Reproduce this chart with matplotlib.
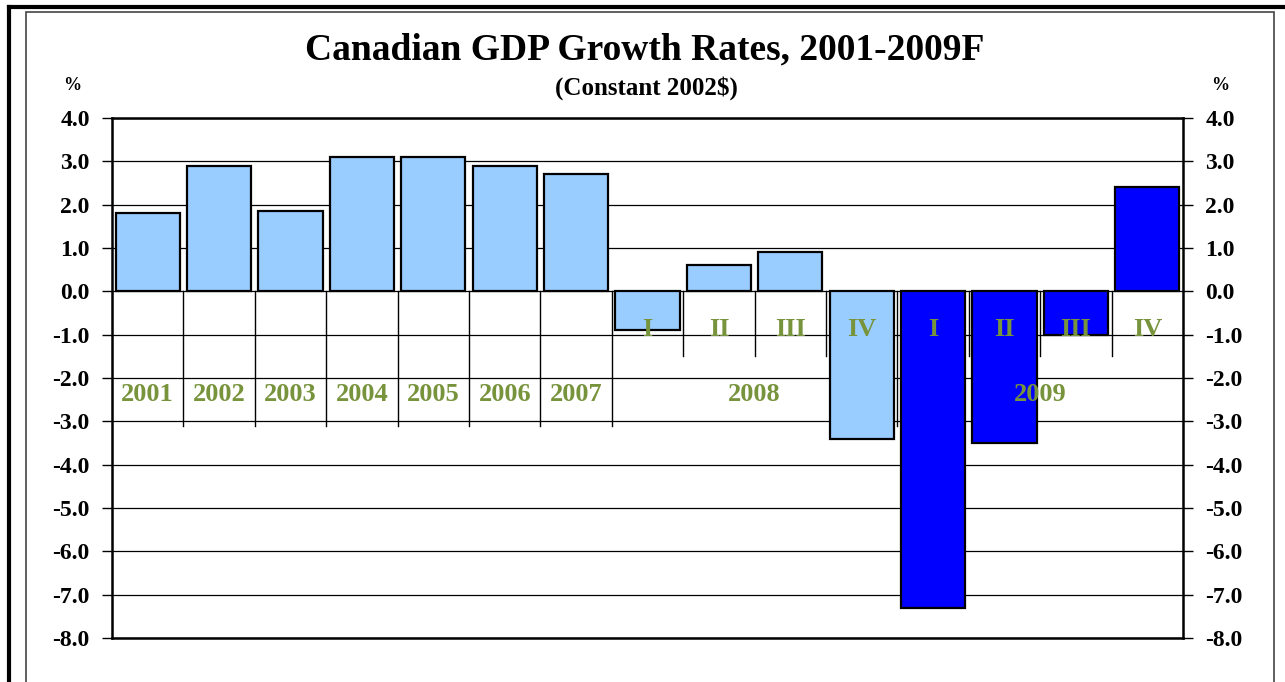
import numpy as np
import matplotlib.pyplot as plt
from matplotlib.patches import Rectangle
from matplotlib.lines import Line2D

plt.rcParams['font.family'] = ['Liberation Serif', 'DejaVu Serif']
plt.rcParams['font.weight'] = 'bold'

# growth rates, % (annual 2001-2007, then quarterly 2008-2009)
years = ['2001', '2002', '2003', '2004', '2005', '2006', '2007']
year_vals = [1.8, 2.9, 1.85, 3.1, 3.1, 2.9, 2.7]
quarters = ['I', 'II', 'III', 'IV']
q2008 = [-0.9, 0.6, 0.9, -3.4]
q2009 = [-7.3, -3.5, -1.0, 2.4]

light = '#99CCFF'
dark = '#0000FF'
green = '#77933C'

values = year_vals + q2008 + q2009
colors = [light] * (len(year_vals) + len(q2008)) + [dark] * len(q2009)
x = np.arange(len(values))

W, H = 1285, 682
fig = plt.figure(figsize=(W / 100, H / 100), dpi=100)
ax = fig.add_axes([112 / W, 1 - 638 / H, (1183 - 112) / W, (638 - 118) / H])

ax.bar(x, values, width=0.9, color=colors, edgecolor='black', linewidth=1.6, zorder=3)

ax.set_xlim(-0.5, len(values) - 0.5)
ax.set_ylim(-8, 4)
ax.set_yticks(np.arange(-8, 5, 1))
ax.yaxis.set_major_formatter(plt.FuncFormatter(lambda v, p: f'{v:.1f}'))
ax.yaxis.grid(True, color='black', linewidth=0.9, zorder=0)
ax.set_xticks([])
ax.tick_params(axis='y', which='both', left=True, right=True, labelleft=True,
               labelright=True, direction='out', length=7, width=1,
               labelsize=17, pad=9)
for lab in ax.get_yticklabels():
    lab.set_fontweight('bold')
for side in ['left', 'right', 'top', 'bottom']:
    ax.spines[side].set_linewidth(1.8)

# category separators below the zero line
n_years = len(years)
for i in range(1, len(values)):
    b = i - 0.5
    if i <= n_years or i == n_years + 4:
        ax.plot([b, b], [0, -3.1], color='black', linewidth=1, zorder=1)
    else:
        ax.plot([b, b], [0, -1.5], color='black', linewidth=1, zorder=1)

# category labels
lab_kw = dict(ha='center', va='center', color=green, fontsize=19,
              fontweight='bold', zorder=5)
for i, y in enumerate(years):
    ax.text(i, -2.38, y, **lab_kw)
for k, q in enumerate(quarters * 2):
    ax.text(n_years + k, -0.88, q, **lab_kw)
ax.text(n_years + 1.5, -2.38, '2008', **lab_kw)
ax.text(n_years + 5.5, -2.38, '2009', **lab_kw)

fig.text(645 / W, 1 - 50 / H, 'Canadian GDP Growth Rates, 2001-2009F',
         ha='center', va='center', fontsize=27, fontweight='bold')
fig.text(646 / W, 1 - 88 / H, '(Constant 2002$)', ha='center', va='center',
         fontsize=18, fontweight='bold')
fig.text(72 / W, 1 - 86 / H, '%', ha='center', va='center', fontsize=13,
         fontweight='bold')
fig.text(1220 / W, 1 - 86 / H, '%', ha='center', va='center', fontsize=13,
         fontweight='bold')

# outer frames
fig.add_artist(Line2D([9 / W, 9 / W], [0, 1 - 7 / H], color='black', linewidth=3))
fig.add_artist(Line2D([9 / W, 1], [1 - 7 / H, 1 - 7 / H], color='black', linewidth=3))
fig.add_artist(Rectangle((26 / W, -0.05), (1274 - 26) / W, 1.05 - 12 / H,
                         fill=False, edgecolor='#444444', linewidth=1.2))

fig.savefig('out.png', dpi=100)
